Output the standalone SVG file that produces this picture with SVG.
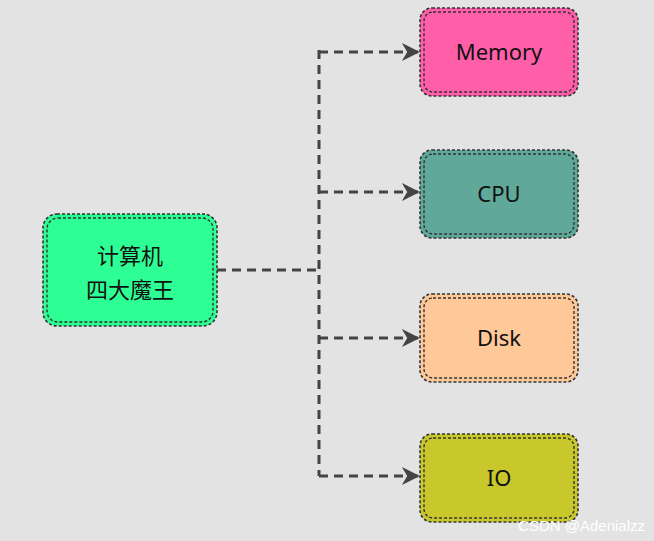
<svg xmlns="http://www.w3.org/2000/svg" width="654" height="541" viewBox="0 0 654 541">
<style>
.o{fill:none;stroke:#333;stroke-width:1.6;stroke-dasharray:3 2}
.i{fill:none;stroke:#333;stroke-width:1.4;stroke-dasharray:3 2}
.t{font-family:"Noto Sans","Noto Sans CJK SC",sans-serif;font-size:22px;fill:#111;text-anchor:middle}
.c{fill:none;stroke:#444;stroke-width:3;stroke-dasharray:9 6}
</style>
<defs><marker id="a" viewBox="0 0 10 10" refX="9" refY="5" markerWidth="6" markerHeight="6" markerUnits="strokeWidth" orient="auto"><path d="M0,0 L10,5 L0,10 L3,5 Z" fill="#444"/></marker></defs>
<rect width="654" height="541" fill="#e3e3e3"/>
<g id="connectors">
<path class="c" d="M217,270 H319"/>
<path class="c" d="M319,50 V476"/>
<path class="c" d="M319,52 H418" marker-end="url(#a)"/>
<path class="c" d="M319,192 H418" marker-end="url(#a)"/>
<path class="c" d="M319,338 H418" marker-end="url(#a)"/>
<path class="c" d="M319,476 H418" marker-end="url(#a)"/>
</g>
<g id="n0"><rect x="43" y="214" width="174" height="112" rx="14" fill="#2dff94"/><rect class="o" x="43" y="214" width="174" height="112" rx="14"/><rect class="i" x="47" y="218" width="166" height="104" rx="11"/><text class="t" x="130" y="264">计算机</text><text class="t" x="130" y="298">四大魔王</text></g>
<g id="n1"><rect x="420" y="8" width="158" height="88" rx="12" fill="#ff5fa8"/><rect class="o" x="420" y="8" width="158" height="88" rx="12"/><rect class="i" x="424" y="12" width="150" height="80" rx="9"/><text class="t" x="499" y="60">Memory</text></g>
<g id="n2"><rect x="420" y="150" width="158" height="88" rx="12" fill="#5fa89a"/><rect class="o" x="420" y="150" width="158" height="88" rx="12"/><rect class="i" x="424" y="154" width="150" height="80" rx="9"/><text class="t" x="499" y="202">CPU</text></g>
<g id="n3"><rect x="420" y="294" width="158" height="88" rx="12" fill="#ffc898"/><rect class="o" x="420" y="294" width="158" height="88" rx="12"/><rect class="i" x="424" y="298" width="150" height="80" rx="9"/><text class="t" x="499" y="346">Disk</text></g>
<g id="n4"><rect x="420" y="434" width="158" height="88" rx="12" fill="#c8c82d"/><rect class="o" x="420" y="434" width="158" height="88" rx="12"/><rect class="i" x="424" y="438" width="150" height="80" rx="9"/><text class="t" x="499" y="486">IO</text></g>
<text x="645" y="531" font-family="Liberation Sans,sans-serif" font-size="15" fill="#fff" text-anchor="end">CSDN @Adenialzz</text>
</svg>
